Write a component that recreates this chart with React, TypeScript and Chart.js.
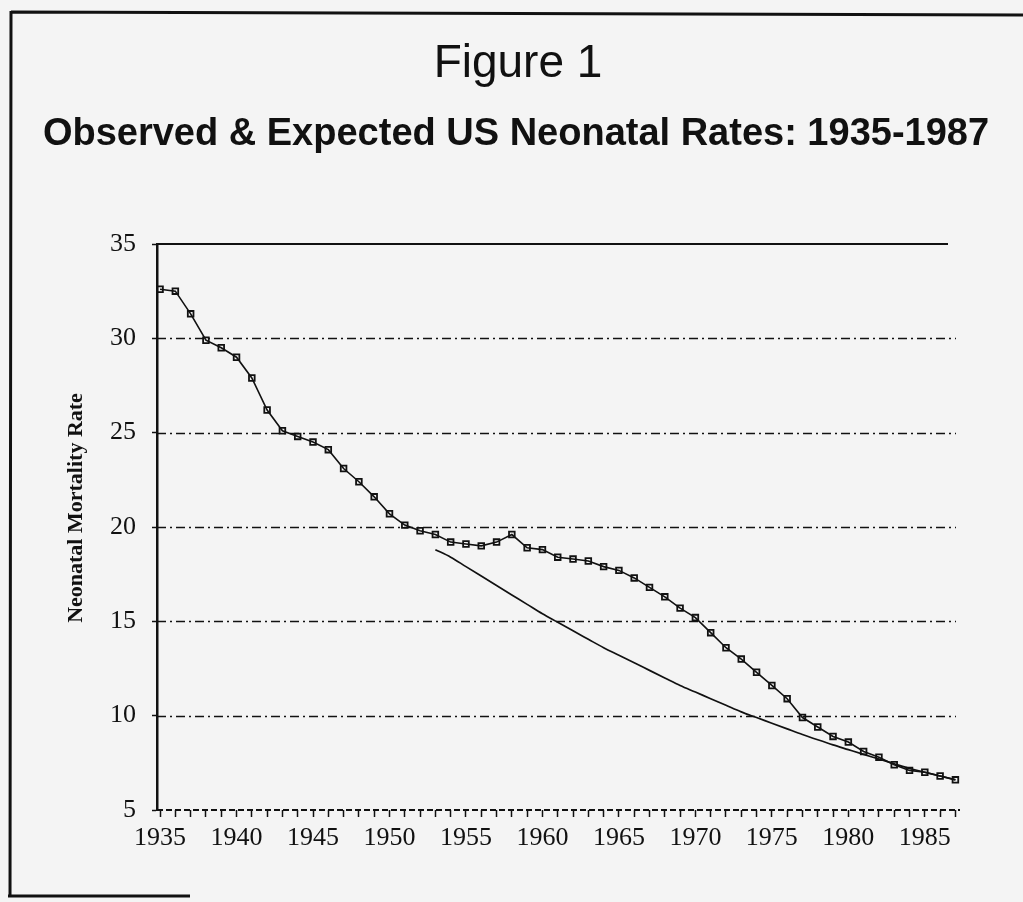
import React, { useEffect, useRef } from "react";
import { Chart, registerables } from "chart.js";

Chart.register(...registerables);

const TITLE = "Figure 1";
const SUBTITLE = "Observed & Expected US Neonatal Rates: 1935-1987";
const Y_TITLE = "Neonatal Mortality Rate";

const observedYears = [
  1935, 1936, 1937, 1938, 1939, 1940, 1941, 1942, 1943, 1944,
  1945, 1946, 1947, 1948, 1949, 1950, 1951, 1952, 1953, 1954,
  1955, 1956, 1957, 1958, 1959, 1960, 1961, 1962, 1963, 1964,
  1965, 1966, 1967, 1968, 1969, 1970, 1971, 1972, 1973, 1974,
  1975, 1976, 1977, 1978, 1979, 1980, 1981, 1982, 1983, 1984,
  1985, 1986, 1987,
];
const observedRates = [
  32.6, 32.5, 31.3, 29.9, 29.5, 29.0, 27.9, 26.2, 25.1, 24.8,
  24.5, 24.1, 23.1, 22.4, 21.6, 20.7, 20.1, 19.8, 19.6, 19.2,
  19.1, 19.0, 19.2, 19.6, 18.9, 18.8, 18.4, 18.3, 18.2, 17.9,
  17.7, 17.3, 16.8, 16.3, 15.7, 15.2, 14.4, 13.6, 13.0, 12.3,
  11.6, 10.9, 9.9, 9.4, 8.9, 8.6, 8.1, 7.8, 7.4, 7.1,
  7.0, 6.8, 6.6,
];

const expectedYears = [
  1953, 1954, 1955, 1956, 1957, 1958, 1959, 1960, 1961, 1962,
  1963, 1964, 1965, 1966, 1967, 1968, 1969, 1970, 1971, 1972,
  1973, 1974, 1975, 1976, 1977, 1978, 1979, 1980, 1981, 1982,
  1983, 1984, 1985, 1986, 1987,
];
const expectedRates = [
  18.8, 18.4, 17.9, 17.4, 16.9, 16.4, 15.9, 15.4, 14.95, 14.5,
  14.05, 13.6, 13.2, 12.8, 12.4, 12.0, 11.6, 11.25, 10.9, 10.55,
  10.2, 9.9, 9.6, 9.3, 9.0, 8.72, 8.45, 8.2, 7.95, 7.7,
  7.45, 7.2, 7.0, 6.8, 6.6,
];

const yGridValues = [10, 15, 20, 25, 30];
const yTopValue = 35;
const xLabelYears = [1935, 1940, 1945, 1950, 1955, 1960, 1965, 1970, 1975, 1980, 1985];

const INK = "#111111";

const paperPlugin = {
  id: "paper",
  beforeDraw(chart: any) {
    const { ctx, width } = chart;
    ctx.save();
    ctx.fillStyle = "#f4f4f4";
    ctx.fillRect(0, 0, width, chart.height);
    ctx.strokeStyle = INK;
    ctx.lineWidth = 3;
    ctx.beginPath();
    ctx.moveTo(11, 12);
    ctx.lineTo(width, 15);
    ctx.moveTo(11, 11);
    ctx.lineTo(10, 897);
    ctx.moveTo(8, 896);
    ctx.lineTo(190, 896);
    ctx.stroke();
    // titles
    ctx.fillStyle = INK;
    ctx.textAlign = "center";
    ctx.textBaseline = "alphabetic";
    ctx.font = "normal 46px 'Liberation Sans', Arial, sans-serif";
    ctx.fillText(TITLE, 518, 77);
    ctx.font = "bold 38px 'Liberation Sans', Arial, sans-serif";
    ctx.fillText(SUBTITLE, 516, 145);
    ctx.restore();
  },
};

const gridPlugin = {
  id: "scanGrid",
  beforeDatasetsDraw(chart: any) {
    const { ctx, chartArea, scales } = chart;
    const y = scales.y;
    ctx.save();
    ctx.strokeStyle = INK;
    ctx.lineWidth = 1.6;
    ctx.setLineDash([9, 4, 2, 4]);
    for (const v of yGridValues) {
      const py = Math.round(y.getPixelForValue(v)) + 0.5;
      ctx.beginPath();
      ctx.moveTo(chartArea.left, py);
      ctx.lineTo(chartArea.right - 4, py);
      ctx.stroke();
    }
    ctx.setLineDash([]);
    ctx.lineWidth = 2;
    const pt = Math.round(y.getPixelForValue(yTopValue));
    ctx.beginPath();
    ctx.moveTo(chartArea.left, pt);
    ctx.lineTo(chartArea.right - 12, pt);
    ctx.stroke();
    ctx.lineWidth = 2;
    ctx.setLineDash([6, 3]);
    const pb = Math.round(y.getPixelForValue(5));
    ctx.beginPath();
    ctx.moveTo(chartArea.left, pb);
    ctx.lineTo(chartArea.right, pb);
    ctx.stroke();
    ctx.restore();
  },
  afterDraw(chart: any) {
    const { ctx } = chart;
    ctx.save();
    ctx.translate(76, 508);
    ctx.rotate(-Math.PI / 2);
    ctx.fillStyle = INK;
    ctx.font = "bold 22px 'Liberation Serif', 'Times New Roman', serif";
    ctx.textAlign = "center";
    ctx.textBaseline = "middle";
    ctx.fillText(Y_TITLE, 0, 0);
    ctx.restore();
  },
};

export default function App() {
  const ref = useRef<HTMLCanvasElement | null>(null);

  useEffect(() => {
    document.body.style.margin = "0";
    const canvas = ref.current;
    if (!canvas) return;
    const chart = new Chart(canvas, {
      type: "line",
      data: {
        datasets: [
          {
            label: "Observed",
            data: observedYears.map((yr, i) => ({ x: yr, y: observedRates[i] })),
            borderColor: INK,
            borderWidth: 1.6,
            pointStyle: "rect",
            pointRadius: 4,
            pointBorderWidth: 1.8,
            pointBorderColor: INK,
            pointBackgroundColor: "rgba(0,0,0,0)",
            fill: false,
            tension: 0,
          },
          {
            label: "Expected",
            data: expectedYears.map((yr, i) => ({ x: yr, y: expectedRates[i] })),
            borderColor: INK,
            borderWidth: 1.7,
            pointRadius: 0,
            fill: false,
            cubicInterpolationMode: "monotone",
          },
        ],
      },
      options: {
        animation: false,
        responsive: false,
        devicePixelRatio: 1,
        layout: { padding: { left: 72, right: 63, top: 244, bottom: 0 } },
        plugins: {
          legend: { display: false },
          tooltip: { enabled: false },
          title: { display: false },
          subtitle: { display: false },
        },
        scales: {
          x: {
            type: "linear",
            min: 1934.8,
            max: 1987.3,
            afterFit(scale: any) {
              scale.height = 92;
            },
            afterBuildTicks(scale: any) {
              scale.ticks = observedYears.map((v) => ({ value: v }));
            },
            ticks: {
              autoSkip: false,
              maxRotation: 0,
              padding: 6,
              color: INK,
              font: { family: "'Liberation Serif', 'Times New Roman', serif", size: 26 },
              callback: (v: any) => {
                const n = Math.round(Number(v));
                return xLabelYears.includes(n) ? String(n) : "";
              },
            },
            grid: {
              display: true,
              drawOnChartArea: false,
              drawTicks: true,
              tickLength: 7,
              tickWidth: 1.5,
              tickColor: INK,
            },
            border: { display: false },
          },
          y: {
            type: "linear",
            min: 5,
            max: 35,
            afterFit(scale: any) {
              scale.width = 85;
            },
            ticks: {
              stepSize: 5,
              padding: 16,
              color: INK,
              font: { family: "'Liberation Serif', 'Times New Roman', serif", size: 26 },
            },
            grid: {
              display: true,
              drawOnChartArea: false,
              drawTicks: true,
              tickLength: 5,
              tickWidth: 1.5,
              tickColor: INK,
            },
            border: { display: true, color: INK, width: 2.5 },
            title: { display: false },
          },
        },
      },
      plugins: [paperPlugin, gridPlugin],
    } as any);
    return () => chart.destroy();
  }, []);

  return (
    <canvas
      ref={ref}
      width={1023}
      height={902}
      style={{ display: "block", width: "1023px", height: "902px" }}
    />
  );
}
